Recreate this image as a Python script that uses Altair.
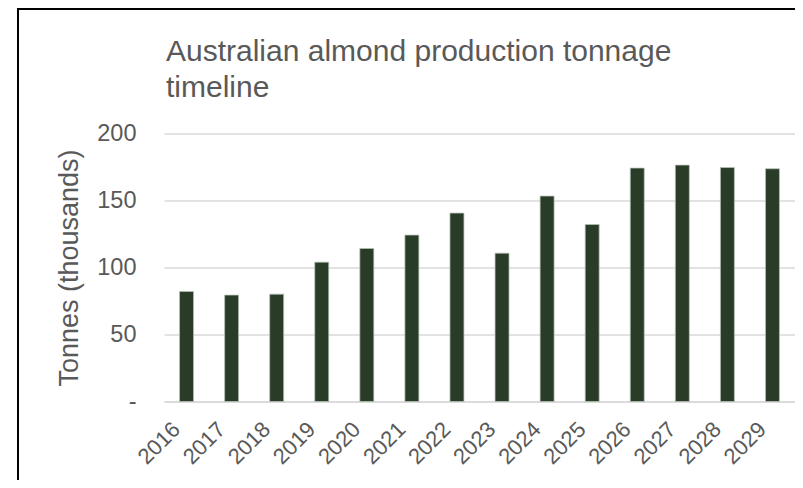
import altair as alt
import pandas as pd

years = ["2016", "2017", "2018", "2019", "2020", "2021", "2022",
         "2023", "2024", "2025", "2026", "2027", "2028", "2029"]
tonnes = [82.1, 79.4, 80.1, 104.0, 114.2, 124.2, 140.6,
          110.7, 153.3, 132.1, 174.2, 176.4, 174.6, 173.7]
y_ticks = [0, 50, 100, 150, 200]

df = pd.DataFrame({"year": years, "tonnes": tonnes})

W, H = 631, 268
FONT = "Liberation Sans"
GRAY = "#595959"

bars = alt.Chart(df).mark_bar(
    color="#283c28", stroke="#b7c0b6", strokeWidth=0.75
).encode(
    x=alt.X(
        "year:N", sort=years,
        scale=alt.Scale(paddingInner=0.69, paddingOuter=0.345),
        axis=alt.Axis(
            title=None, labelAngle=-45, labelAlign="right", labelBaseline="middle",
            labelFontSize=22, labelFont=FONT, labelColor=GRAY,
            labelPadding=24, labelOffset=-10, ticks=False, grid=False,
            domainColor="#d9d9d9", domainWidth=1.5, labelOverlap=False,
        ),
    ),
    y=alt.Y(
        "tonnes:Q",
        scale=alt.Scale(domain=[0, 200], nice=False),
        axis=alt.Axis(
            values=y_ticks, title="Tonnes (thousands)",
            titleFont=FONT, titleFontSize=27, titleColor=GRAY, titleFontWeight="normal",
            titleX=-86.7, titleY=H / 2, titleAlign="center", titleBaseline="alphabetic",
            titleAngle=270,
            labelFont=FONT, labelFontSize=23.5, labelColor=GRAY, labelPadding=28,
            labelExpr="datum.value == 0 ? '-\u00a0\u00a0' : datum.label",
            ticks=False, domain=False,
            grid=True, gridColor="#d9d9d9", gridWidth=1.4,
        ),
    ),
)

border_data = alt.Data(values=[{"k": 1}])
left_border = alt.Chart(border_data).mark_rule(color="black", strokeWidth=2).encode(
    x=alt.value(-146), y=alt.value(-124.5), y2=alt.value(H + 80)
)
top_border = alt.Chart(border_data).mark_rule(color="black", strokeWidth=2).encode(
    x=alt.value(-147), x2=alt.value(W + 5), y=alt.value(-124.5)
)

chart = alt.layer(bars, left_border, top_border).properties(
    width=W, height=H,
    padding={"left": 156, "top": 125.5, "right": 0, "bottom": 78},
    autosize=alt.AutoSizeParams(type="none"),
    title=alt.TitleParams(
        text=["Australian almond production tonnage", "timeline"],
        anchor="start", frame="group", font=FONT, fontSize=30,
        fontWeight="normal", color=GRAY, lineHeight=35.7, dx=2, offset=-94.7,
    ),
).configure_view(stroke=None)

chart.save("out.html", embed_options={"renderer": "svg", "actions": False})
